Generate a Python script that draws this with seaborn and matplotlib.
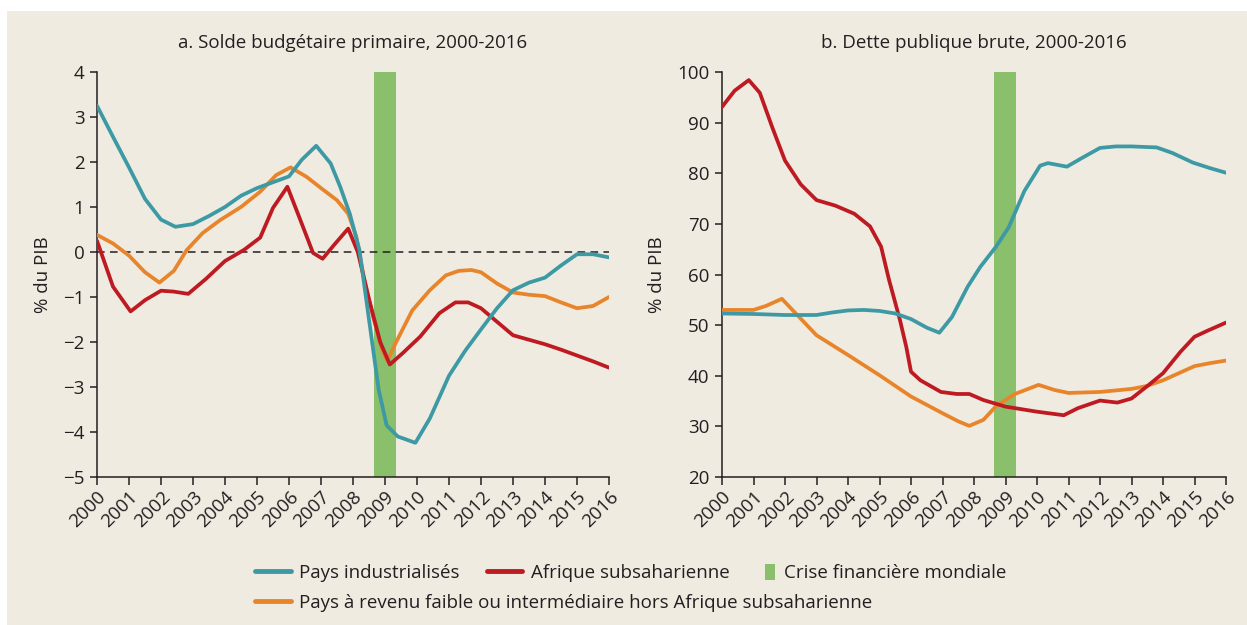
import numpy as np
import pandas as pd
import seaborn as sns
import matplotlib
matplotlib.use("Agg")
from matplotlib import pyplot as plt
from matplotlib.lines import Line2D
from matplotlib.patches import Patch, Rectangle

# series names (legend labels)
ind_name = "Pays industrialisés"
ssa_name = "Afrique subsaharienne"
lmi_name = "Pays à revenu faible ou intermédiaire hors Afrique subsaharienne"
crisis_name = "Crise financière mondiale"

years = list(range(2000, 2017))
crisis_start, crisis_end = 2008.65, 2009.33

# a. Solde budgetaire primaire (% du PIB)
a_ind_x = [2000, 2000.5, 2001, 2001.5, 2002, 2002.45, 2003, 2003.5, 2004, 2004.5, 2005, 2005.5,
           2006, 2006.4, 2006.85, 2007.3, 2007.6, 2007.9, 2008.2, 2008.5, 2008.8, 2009.05, 2009.4,
           2009.95, 2010.4, 2011, 2011.5, 2012, 2012.5, 2013, 2013.5, 2014, 2014.5, 2015, 2015.5, 2016]
a_ind_y = [3.25, 2.56, 1.88, 1.18, 0.72, 0.56, 0.62, 0.8, 1.0, 1.25, 1.42, 1.55,
           1.68, 2.05, 2.36, 1.97, 1.45, 0.85, 0.05, -1.5, -3.05, -3.85, -4.1,
           -4.24, -3.7, -2.75, -2.2, -1.72, -1.25, -0.85, -0.68, -0.57, -0.3, -0.05, -0.05, -0.12]

a_ssa_x = [2000, 2000.5, 2001.05, 2001.5, 2002, 2002.4, 2002.85, 2003.4, 2004, 2004.6, 2005.1, 2005.5,
           2005.95, 2006.35, 2006.75, 2007.05, 2007.4, 2007.85, 2008.15, 2008.5, 2008.85, 2009.15,
           2009.55, 2010.1, 2010.7, 2011.2, 2011.6, 2012, 2012.5, 2013, 2013.5, 2014, 2014.5, 2015,
           2015.5, 2016]
a_ssa_y = [0.25, -0.77, -1.32, -1.07, -0.86, -0.88, -0.93, -0.6, -0.2, 0.05, 0.32, 0.98,
           1.45, 0.72, -0.02, -0.15, 0.15, 0.52, 0.0, -1.05, -2.0, -2.5,
           -2.25, -1.88, -1.36, -1.12, -1.12, -1.25, -1.55, -1.85, -1.95, -2.05, -2.17, -2.3,
           -2.43, -2.57]

a_lmi_x = [2000, 2000.5, 2001, 2001.5, 2001.95, 2002.4, 2002.8, 2003.3, 2003.85, 2004.5, 2005.1, 2005.6,
           2006.05, 2006.55, 2007, 2007.5, 2007.85, 2008.1, 2008.35, 2008.65, 2008.9, 2009.07, 2009.35,
           2009.85, 2010.4, 2010.9, 2011.3, 2011.7, 2012, 2012.5, 2013, 2013.5, 2014, 2014.5, 2015,
           2015.5, 2016]
a_lmi_y = [0.38, 0.19, -0.08, -0.45, -0.68, -0.42, 0.04, 0.42, 0.71, 1.0, 1.34, 1.71,
           1.88, 1.67, 1.42, 1.15, 0.85, 0.35, -0.6, -1.5, -2.15, -2.42, -2.0,
           -1.3, -0.85, -0.52, -0.42, -0.4, -0.45, -0.7, -0.9, -0.95, -0.98, -1.12, -1.25,
           -1.2, -1.0]

# b. Dette publique brute (% du PIB)
b_ind_x = [2000, 2001, 2002, 2003, 2003.5, 2004, 2004.5, 2005, 2005.5, 2006, 2006.5, 2006.9, 2007.3,
           2007.8, 2008.2, 2008.7, 2009.1, 2009.6, 2010.1, 2010.35, 2010.95, 2011.45, 2012, 2012.5,
           2013, 2013.8, 2014.3, 2014.95, 2015.5, 2016]
b_ind_y = [52.3, 52.2, 52.0, 52.0, 52.5, 52.9, 53.0, 52.8, 52.3, 51.2, 49.5, 48.5, 51.6,
           57.6, 61.5, 65.5, 69.3, 76.5, 81.5, 82.0, 81.3, 83.1, 85.0, 85.3,
           85.3, 85.1, 84.0, 82.1, 81.0, 80.1]

b_ssa_x = [2000, 2000.4, 2000.85, 2001.2, 2001.6, 2002, 2002.5, 2003, 2003.6, 2004.2, 2004.7, 2005.05,
           2005.3, 2005.65, 2005.85, 2006, 2006.3, 2006.95, 2007.45, 2007.85, 2008.3, 2009, 2010,
           2010.85, 2011.3, 2012, 2012.55, 2013, 2013.55, 2014, 2014.55, 2015, 2015.45, 2016]
b_ssa_y = [93.1, 96.3, 98.4, 95.9, 89.0, 82.5, 77.8, 74.7, 73.6, 72.0, 69.5, 65.5,
           59.0, 51.0, 45.7, 40.8, 39.1, 36.8, 36.4, 36.4, 35.2, 33.9, 32.9,
           32.2, 33.6, 35.1, 34.7, 35.5, 38.2, 40.5, 44.7, 47.7, 49.0, 50.5]

b_lmi_x = [2000, 2001, 2001.4, 2001.9, 2002.45, 2003, 2004, 2005, 2006, 2007, 2007.5, 2007.85, 2008.3,
           2008.7, 2009.3, 2010.05, 2010.55, 2011, 2012, 2013, 2013.5, 2014, 2014.5, 2015, 2015.5, 2016]
b_lmi_y = [53.0, 53.0, 53.8, 55.2, 51.6, 48.0, 44.1, 40.1, 35.9, 32.6, 31.0, 30.1, 31.3,
           34.0, 36.4, 38.2, 37.2, 36.6, 36.8, 37.4, 38.0, 39.1, 40.5, 41.9, 42.5, 43.0]

bg = "#F0EBE1"
ink = "#231F20"
palette = {ind_name: "#3D9AA5", ssa_name: "#BE1A22", lmi_name: "#E8852B"}
green = "#8ABF6B"

sns.set_theme(style="ticks")
plt.rcParams["font.family"] = ["Open Sans", "DejaVu Sans"]

fs = 13.5


def long_df(parts):
    frames = []
    for name, xs, ys in parts:
        frames.append(pd.DataFrame({"annee": xs, "valeur": ys, "serie": name}))
    return pd.concat(frames, ignore_index=True)


df_a = long_df([(lmi_name, a_lmi_x, a_lmi_y), (ssa_name, a_ssa_x, a_ssa_y), (ind_name, a_ind_x, a_ind_y)])
df_b = long_df([(lmi_name, b_lmi_x, b_lmi_y), (ssa_name, b_ssa_x, b_ssa_y), (ind_name, b_ind_x, b_ind_y)])

fig = plt.figure(figsize=(12.47, 6.25), dpi=100, facecolor="white")
fig.patches.append(Rectangle((7 / 1247, 0), 1, 1 - 11 / 625, transform=fig.transFigure,
                             facecolor=bg, edgecolor="none", zorder=-10))

ax1 = fig.add_axes([97 / 1247, 1 - 477 / 625, 512 / 1247, 405 / 625])
ax2 = fig.add_axes([722 / 1247, 1 - 477 / 625, 504 / 1247, 405 / 625])

panels = [
    (ax1, df_a, "a. Solde budgétaire primaire, 2000-2016", (-5, 4), range(-5, 5)),
    (ax2, df_b, "b. Dette publique brute, 2000-2016", (20, 100), range(20, 101, 10)),
]

for ax, df, title, ylim, yticks in panels:
    ax.set_facecolor(bg)
    ax.axvspan(crisis_start, crisis_end, color=green, lw=0, zorder=1)
    sns.lineplot(data=df, x="annee", y="valeur", hue="serie", palette=palette,
                 estimator=None, linewidth=2.7, legend=False, ax=ax, zorder=3)
    for ln in ax.get_lines():
        ln.set_solid_joinstyle("round")
    ax.set_xlim(2000, 2016)
    ax.set_ylim(*ylim)
    ax.set_xticks(years)
    ax.set_xticklabels([str(y) for y in years], rotation=45, ha="right",
                       rotation_mode="anchor", fontsize=fs)
    ax.set_yticks(list(yticks))
    ax.set_yticklabels([str(t).replace("-", "\u2212") for t in yticks], fontsize=fs)
    ax.tick_params(axis="both", colors=ink, direction="out", width=1.1, length=5, pad=4)
    ax.tick_params(axis="x", length=6, pad=2)
    ax.set_xlabel("")
    ax.set_ylabel("% du PIB", fontsize=fs, color=ink, labelpad=8)
    ax.set_title(title, fontsize=fs, color=ink, pad=17)
    for side in ["top", "right"]:
        ax.spines[side].set_visible(False)
    for side in ["left", "bottom"]:
        ax.spines[side].set_color(ink)
        ax.spines[side].set_linewidth(1.1)

ax1.axhline(0, color=ink, lw=1.1, ls=(0, (5, 3.5)), zorder=2)

# legend, laid out like the original: two rows under both panels
leg_kw = dict(frameon=False, fontsize=fs, borderpad=0, borderaxespad=0,
              handletextpad=0.45, labelcolor=ink)
h_ind = Line2D([], [], color=palette[ind_name], lw=3.5)
h_ssa = Line2D([], [], color=palette[ssa_name], lw=3.5)
h_lmi = Line2D([], [], color=palette[lmi_name], lw=3.5)
h_crisis = Patch(facecolor=green, edgecolor="none")

fig.legend([h_ind, h_ssa], [ind_name, ssa_name], ncol=2, loc="center left",
           bbox_to_anchor=(255 / 1247, 1 - 573 / 625), handlelength=1.9,
           columnspacing=1.45, **leg_kw)
fig.legend([h_crisis], [crisis_name], loc="center left",
           bbox_to_anchor=(765 / 1247, 1 - 573 / 625), handlelength=0.55,
           handleheight=1.0, **leg_kw)
fig.legend([h_lmi], [lmi_name], loc="center left",
           bbox_to_anchor=(255 / 1247, 1 - 603 / 625), handlelength=1.9, **leg_kw)

fig.savefig("out.png", dpi=100, facecolor="white")
